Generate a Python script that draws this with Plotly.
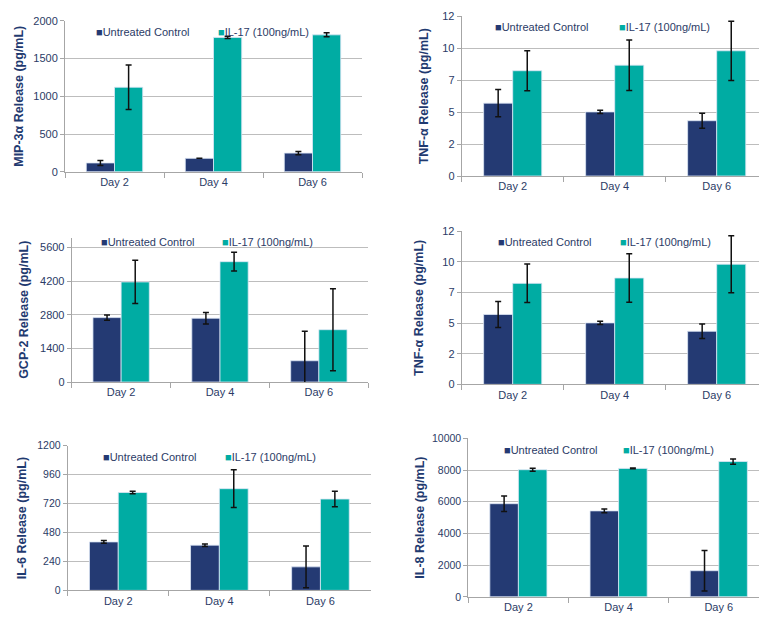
import plotly.graph_objects as go

DAYS = ["Day 2", "Day 4", "Day 6"]
SERIES = ["Untreated Control", "IL-17 (100ng/mL)"]

# MIP-3a
MIP_CTRL = [117, 178, 247]
MIP_CTRL_ERR = [33, 0, 22]
MIP_IL17 = [1119, 1779, 1813]
MIP_IL17_ERR = [295, 15, 26]

# TNF-a (shown twice)
TNF_CTRL = [5.48, 4.82, 4.16]
TNF_CTRL_ERR = [1.02, 0.12, 0.57]
TNF_IL17 = [7.92, 8.34, 9.42]
TNF_IL17_ERR = [1.51, 1.90, 2.23]

# GCP-2
GCP_CTRL = [2684, 2657, 886]
GCP_CTRL_ERR = [109, 238, 1226]
GCP_IL17 = [4169, 5014, 2180]
GCP_IL17_ERR = [900, 388, 1710]

# IL-6
IL6_CTRL = [402, 375, 195]
IL6_CTRL_ERR = [12, 10, 174]
IL6_IL17 = [812, 844, 758]
IL6_IL17_ERR = [10, 157, 64]

# IL-8
IL8_CTRL = [5876, 5423, 1649]
IL8_CTRL_ERR = [485, 124, 1278]
IL8_IL17 = [8021, 8103, 8536]
IL8_IL17_ERR = [93, 30, 165]

MIP_TICKS = [0, 500, 1000, 1500, 2000]
TNF_TICKS = [0, 2.4, 4.8, 7.2, 9.6, 12]
GCP_TICKS = [0, 1400, 2800, 4200, 5600]
IL6_TICKS = [0, 240, 480, 720, 960, 1200]
IL8_TICKS = [0, 2000, 4000, 6000, 8000, 10000]

NAVY = "#243A73"
TEAL = "#00ACA3"
TXT = "#2B3B66"
TITLE_C = "#1F3A70"
GRID = "#BDBDBD"
AXIS = "#A6A6A6"
FONT = "Liberation Sans, Arial, sans-serif"

W, H = 759, 631

panels = [
    dict(c=MIP_CTRL, ce=MIP_CTRL_ERR, t=MIP_IL17, te=MIP_IL17_ERR,
         title="MIP-3α Release (pg/mL)", ticks=MIP_TICKS, yr=[0, 2000],
         xp=(65, 362), yp=(15, 169), xe=2.5, so=6, fmt="d", fs=11,
         leg=(94, 216, 26)),
    dict(c=TNF_CTRL, ce=TNF_CTRL_ERR, t=TNF_IL17, te=TNF_IL17_ERR,
         title="TNF-α Release (pg/mL)", ticks=TNF_TICKS, yr=[0, 12],
         xp=(461.7, 759), yp=(10.7, 173.3), xe=-0.5 + 297.3 / 102, so=10, fmt=".0f", fs=11,
         leg=(492.7, 617.3, 21.7)),
    dict(c=GCP_CTRL, ce=GCP_CTRL_ERR, t=GCP_IL17, te=GCP_IL17_ERR,
         title="GCP-2 Release (pg/mL)", ticks=GCP_TICKS, yr=[0, 5600 * 147.3 / 137],
         xp=(71.7, 368.3), yp=(236, 383.3), xe=2.5, so=8, fmt="d", fs=11,
         leg=(99.3, 220, 240.7)),
    dict(c=TNF_CTRL, ce=TNF_CTRL_ERR, t=TNF_IL17, te=TNF_IL17_ERR,
         title="TNF-α Release (pg/mL)", ticks=TNF_TICKS, yr=[0, 12],
         xp=(461.7, 759), yp=(229.7, 385.7), xe=-0.5 + 297.3 / 102, so=15, fmt=".0f", fs=11,
         leg=(496, 618, 241)),
    dict(c=IL6_CTRL, ce=IL6_CTRL_ERR, t=IL6_IL17, te=IL6_IL17_ERR,
         title="IL-6 Release (pg/mL)", ticks=IL6_TICKS, yr=[0, 1200],
         xp=(67.7, 371), yp=(448.3, 595.7), xe=2.5, so=7, fmt="d", fs=10.5,
         leg=(101, 222.7, 459.3)),
    dict(c=IL8_CTRL, ce=IL8_CTRL_ERR, t=IL8_IL17, te=IL8_IL17_ERR,
         title="IL-8 Release (pg/mL)", ticks=IL8_TICKS, yr=[0, 10000],
         xp=(468.3, 759), yp=(440.7, 602.3), xe=-0.5 + 290.7 / 100.2, so=4, fmt="d", fs=10.5,
         leg=(501.7, 620.7, 452.3)),
]

fig = go.Figure()
layout = dict(
    width=W, height=H, margin=dict(l=0, r=0, t=0, b=0),
    paper_bgcolor="white", plot_bgcolor="white",
    barmode="group", bargap=0.43, bargroupgap=0,
    showlegend=False, font=dict(family=FONT, size=11, color=TXT),
)
annotations = []

for i, p in enumerate(panels, start=1):
    xa = "x" if i == 1 else f"x{i}"
    ya = "y" if i == 1 else f"y{i}"
    for vals, errs, name, col in ((p["c"], p["ce"], SERIES[0], NAVY),
                                  (p["t"], p["te"], SERIES[1], TEAL)):
        fig.add_trace(go.Bar(
            x=DAYS, y=vals, name=name, xaxis=xa, yaxis=ya,
            marker=dict(color=col, line=dict(color="rgba(220,230,245,0.8)", width=1)),
            error_y=dict(type="data", array=errs, visible=True,
                         color="#111111", thickness=1.5, width=3),
            showlegend=False,
        ))
    xl, xr = p["xp"]
    yt, yb = p["yp"]
    xkey = "xaxis" if i == 1 else f"xaxis{i}"
    ykey = "yaxis" if i == 1 else f"yaxis{i}"
    layout[xkey] = dict(
        domain=[xl / W, min(xr / W, 1.0)], anchor=ya,
        type="category", range=[-0.5, p["xe"]],
        showline=True, linecolor=AXIS, linewidth=1,
        ticks="outside", tickson="boundaries", ticklen=5, tickcolor=AXIS,
        showgrid=False, tickfont=dict(size=11, color=TXT, family=FONT),
        fixedrange=True,
    )
    layout[ykey] = dict(
        domain=[1 - yb / H, 1 - yt / H], anchor=xa,
        range=p["yr"], tickvals=p["ticks"], tickformat=p["fmt"],
        showline=True, linecolor=AXIS, linewidth=1,
        ticks="outside", ticklen=4, tickcolor=AXIS,
        showgrid=True, gridcolor=GRID, gridwidth=1, zeroline=False,
        tickfont=dict(size=p["fs"], color=TXT, family=FONT),
        title=dict(text=p["title"], standoff=p["so"],
                   font=dict(size=12.5, color=TITLE_C, family=FONT, weight="bold")),
        fixedrange=True,
    )
    lx1, lx2, ly = p["leg"]
    for lx, name, col in ((lx1, SERIES[0], NAVY), (lx2, SERIES[1], TEAL)):
        annotations.append(dict(
            xref="paper", yref="paper", x=lx / W, y=1 - ly / H,
            xanchor="left", yanchor="middle", showarrow=False,
            text=f'<span style="color:{col}">■</span>{name}',
            font=dict(size=11, color=TXT, family=FONT),
        ))

layout["annotations"] = annotations
fig.update_layout(**layout)
fig.write_html("out.html")
